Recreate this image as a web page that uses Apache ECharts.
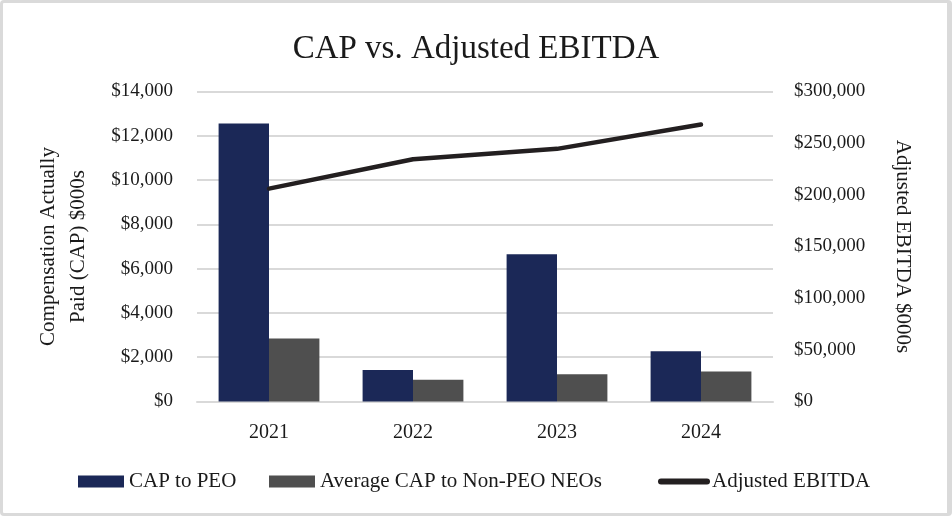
<!DOCTYPE html>
<html>
<head>
<meta charset="utf-8">
<script src="https://cdn.jsdelivr.net/npm/echarts@6/dist/echarts.min.js"></script>
<style>
  html, body { margin: 0; padding: 0; background: #fff; }
  #wrap { position: relative; width: 952px; height: 516px; }
  #chart { position: absolute; left: 0; top: 0; width: 952px; height: 516px; }
  #frame { position: absolute; left: 0; top: 0; width: 952px; height: 516px; box-sizing: border-box;
           border: 3px solid #dadada; border-right-width: 5px; border-radius: 4px; pointer-events: none; }
</style>
</head>
<body>
<div id="wrap"><div id="chart"></div><div id="frame"></div></div>
<script>
const categories = ['2021', '2022', '2023', '2024'];
const capToPeo = [12560, 1420, 6650, 2270];
const avgCapNonPeo = [2840, 980, 1230, 1350];
const adjustedEbitda = [206000, 234500, 244500, 268000];
const leftTicks = { min: 0, max: 14000, interval: 2000 };
const rightTicks = { min: 0, max: 300000, interval: 50000 };

const FONT = '"Liberation Serif", "Times New Roman", serif';
const money = v => '$' + Number(v).toLocaleString('en-US');

const chart = echarts.init(document.getElementById('chart'), null, { renderer: 'canvas' });
chart.setOption({
  backgroundColor: '#ffffff',
  animation: false,
  textStyle: { fontFamily: FONT, color: '#1a1a1a' },
  title: {
    text: 'CAP vs. Adjusted EBITDA',
    left: 'center',
    top: 28,
    textStyle: { fontFamily: FONT, fontSize: 33, fontWeight: 'normal', color: '#1a1a1a' }
  },
  legend: [
    { data: ['CAP to PEO'], left: 73, top: 466, itemWidth: 46, itemHeight: 12, icon: 'rect',
      textStyle: { fontFamily: FONT, fontSize: 21, color: '#1a1a1a' } },
    { data: ['Average CAP to Non-PEO NEOs'], left: 264, top: 466, itemWidth: 46, itemHeight: 12, icon: 'rect',
      textStyle: { fontFamily: FONT, fontSize: 21, color: '#1a1a1a' } },
    { data: [{ name: 'Adjusted EBITDA', icon: 'path://M3,0 H49 A3,3 0 0 1 49,6 H3 A3,3 0 0 1 3,0 Z' }],
      left: 653, top: 466, itemWidth: 52, itemHeight: 6, itemGap: 0,
      itemStyle: { color: '#231f20', borderWidth: 0 },
      textStyle: { fontFamily: FONT, fontSize: 21, color: '#1a1a1a', padding: [0, 0, 0, -3] } }
  ],
  grid: { left: 197, right: 179, top: 91.5, bottom: 114.5 },
  xAxis: {
    type: 'category',
    data: categories,
    axisLine: { show: true, lineStyle: { color: '#d9d9d9', width: 2 } },
    axisTick: { show: false },
    axisLabel: { margin: 21, fontFamily: FONT, fontSize: 20, color: '#1a1a1a' }
  },
  yAxis: [
    {
      type: 'value', position: 'left',
      min: leftTicks.min, max: leftTicks.max, interval: leftTicks.interval,
      name: 'Compensation Actually\nPaid (CAP) $000s',
      nameLocation: 'middle', nameRotate: 90, nameGap: 104,
      nameTextStyle: { fontFamily: FONT, fontSize: 21, color: '#1a1a1a', lineHeight: 30 },
      axisLine: { show: false }, axisTick: { show: false },
      axisLabel: { margin: 24, fontFamily: FONT, fontSize: 19, color: '#1a1a1a', formatter: money },
      splitLine: { show: true, lineStyle: { color: '#d9d9d9', width: 2 } }
    },
    {
      type: 'value', position: 'right',
      min: rightTicks.min, max: rightTicks.max, interval: rightTicks.interval,
      name: 'Adjusted EBITDA $000s',
      nameLocation: 'middle', nameRotate: -90, nameGap: 119,
      nameTextStyle: { fontFamily: FONT, fontSize: 21, color: '#1a1a1a' },
      axisLine: { show: false }, axisTick: { show: false },
      axisLabel: { margin: 21, fontFamily: FONT, fontSize: 19, color: '#1a1a1a', formatter: money },
      splitLine: { show: false }
    }
  ],
  series: [
    { name: 'CAP to PEO', type: 'bar', data: capToPeo, yAxisIndex: 0,
      barGap: '0%', barCategoryGap: '30%', itemStyle: { color: '#1b2857' } },
    { name: 'Average CAP to Non-PEO NEOs', type: 'bar', data: avgCapNonPeo, yAxisIndex: 0,
      barGap: '0%', barCategoryGap: '30%', itemStyle: { color: '#4f4f4f' } },
    { name: 'Adjusted EBITDA', type: 'line', data: adjustedEbitda, yAxisIndex: 1,
      symbol: 'none', z: 5,
      lineStyle: { color: '#231f20', width: 4.5, cap: 'round', join: 'round' },
      itemStyle: { color: '#231f20' } }
  ]
});
</script>
</body>
</html>
